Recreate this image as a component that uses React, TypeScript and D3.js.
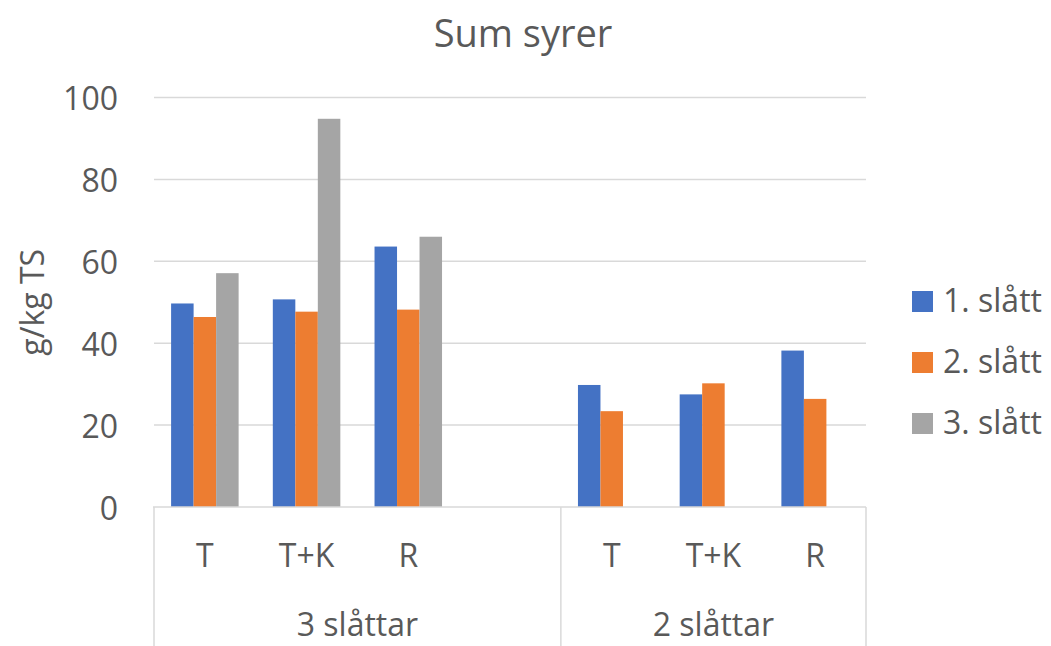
import React from "react";
import * as d3 from "d3";

const categoryLabels = ["T", "T+K", "R", "", "T", "T+K", "R"];
const groupLabels = ["3 slåttar", "2 slåttar"];
const groupSizes = [4, 3];
const seriesNames = ["1. slått", "2. slått", "3. slått"];
const slatt1 = [49.7, 50.7, 63.6, null, 29.8, 27.5, 38.2];
const slatt2 = [46.4, 47.7, 48.2, null, 23.4, 30.2, 26.4];
const slatt3 = [57.1, 94.8, 66.0, null, null, null, null];
const yTicks = [0, 20, 40, 60, 80, 100];
const colors = ["#4472C4", "#ED7D31", "#A5A5A5"];

const W = 1051, H = 646;
const left = 154, right = 866, top = 97.5, bottom = 507;
const FONT = "'Open Sans', sans-serif";
const TXT = "#595959";

export default function App() {
  const series = [slatt1, slatt2, slatt3];
  const x = d3.scaleBand<number>().domain(d3.range(categoryLabels.length)).range([left, right]).padding(0);
  const xi = d3.scaleBand<number>().domain(d3.range(series.length)).range([0, x.bandwidth()]).paddingInner(0).paddingOuter(0.76);
  const y = d3.scaleLinear().domain([0, 100]).range([bottom, top]);

  const bounds: number[] = [left];
  let acc = 0;
  groupSizes.forEach((g) => { acc += g; bounds.push(left + acc * x.step()); });

  return (
    <svg width={W} height={H} style={{ position: "absolute", left: 0, top: 0, background: "#fff" }} fontFamily={FONT}>
      <text x={523} y={47} textAnchor="middle" fontSize={38} fill={TXT}>Sum syrer</text>
      {yTicks.map((t) => (
        <g key={t}>
          {t > 0 && <line x1={left} x2={right} y1={y(t)} y2={y(t)} stroke="#D9D9D9" strokeWidth={1.5} />}
          <text x={118} y={y(t)} textAnchor="end" dominantBaseline="central" fontSize={32} fill={TXT}>{t}</text>
        </g>
      ))}
      <text transform={`translate(43.5, ${(top + bottom) / 2}) rotate(-90)`} textAnchor="middle" fontSize={32} fill={TXT}>g/kg TS</text>
      {series.map((s, si) => (
        <g key={si}>
          {s.map((v, ci) => v == null ? null : (
            <rect key={ci} x={(x(ci) as number) + (xi(si) as number)} width={xi.bandwidth()} y={y(v)} height={y(0) - y(v)} fill={colors[si]} />
          ))}
        </g>
      ))}
      <line x1={left - 1} x2={right} y1={bottom} y2={bottom} stroke="#D9D9D9" strokeWidth={1.5} />
      {bounds.map((b, i) => (
        <line key={i} x1={b} x2={b} y1={bottom} y2={H} stroke="#D9D9D9" strokeWidth={1.5} />
      ))}
      {categoryLabels.map((c, ci) => (
        <text key={ci} x={(x(ci) as number) + x.bandwidth() / 2} y={567} textAnchor="middle" fontSize={32} fill={TXT}>{c}</text>
      ))}
      {groupLabels.map((g, gi) => (
        <text key={gi} x={(bounds[gi] + bounds[gi + 1]) / 2} y={636} textAnchor="middle" fontSize={32} fill={TXT}>{g}</text>
      ))}
      {seriesNames.map((n, si) => (
        <g key={si} transform={`translate(912, ${301.5 + si * 61})`}>
          <rect x={0} y={-10.5} width={21} height={21} fill={colors[si]} />
          <text x={31} y={10.5} fontSize={32} fill={TXT}>{n}</text>
        </g>
      ))}
    </svg>
  );
}
